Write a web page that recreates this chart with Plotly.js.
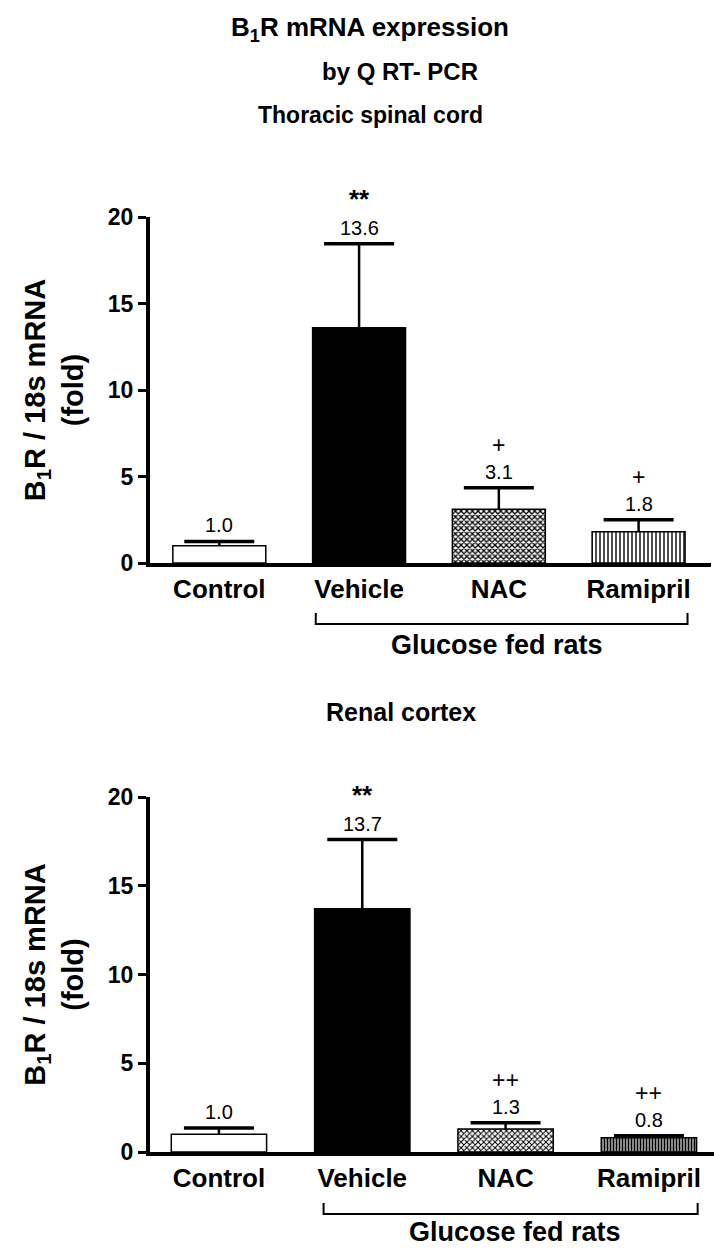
<!DOCTYPE html>
<html>
<head>
<meta charset="utf-8">
<script src="https://cdn.plot.ly/plotly-3.0.1.min.js"></script>
<style>html,body{margin:0;padding:0;background:#fff;}#chart{width:714px;height:1249px;}</style>
</head>
<body>
<div id="chart"></div>
<script>
// ---- data ----
const categories = ['Control', 'Vehicle', 'NAC', 'Ramipril'];
const spinalMean = [1.0, 13.6, 3.1, 1.8];
const spinalSem  = [0.25, 4.85, 1.25, 0.7];
const spinalSig  = ['', '**', '+', '+'];
const renalMean  = [1.0, 13.7, 1.3, 0.8];
const renalSem   = [0.35, 3.9, 0.35, 0.12];
const renalSig   = ['', '**', '++', '++'];
const yTicks     = [0, 5, 10, 15, 20];
const groupLabel = 'Glucose fed rats';

// ---- layout helpers (pixel -> paper) ----
const W = 714, H = 1249;
const px = x => x / W;
const py = y => 1 - y / H;
const FONT = 'Liberation Sans, Arial, Helvetica, sans-serif';

// bar fill styles per category (style only, no data)
const topStyles = [
  {bg: '#ffffff', shape: '', size: 4, sol: 0.3},
  {bg: '#000000', shape: '', size: 4, sol: 0.3},
  {bg: '#ffffff', shape: 'x', size: 4, sol: 0.55},
  {bg: '#ffffff', shape: '|', size: 4, sol: 0.35}
];
const botStyles = [
  {bg: '#ffffff', shape: '', size: 4, sol: 0.3},
  {bg: '#000000', shape: '', size: 4, sol: 0.3},
  {bg: '#ffffff', shape: 'x', size: 4, sol: 0.45},
  {bg: '#ffffff', shape: '|', size: 3, sol: 0.65}
];

function barTraces(mean, xa, ya, styles) {
  return categories.map((c, i) => {
    const s = styles[i];
    const marker = {color: s.bg, line: {color: '#000000', width: 1.5}};
    if (s.shape) marker.pattern = {shape: s.shape, size: s.size, solidity: s.sol,
                                   fgcolor: '#000000', bgcolor: s.bg, fillmode: 'replace'};
    return {type: 'bar', x: [c], y: [mean[i]], xaxis: xa, yaxis: ya, width: 0.665,
            marker: marker, hoverinfo: 'skip', showlegend: false, name: c};
  });
}
function errTrace(mean, sem, xa, ya) {
  return {
    type: 'scatter', mode: 'markers', xaxis: xa, yaxis: ya,
    x: categories, y: mean.map((m, i) => m + sem[i]),
    marker: {symbol: 'line-ew', size: 50, color: '#000', line: {color: '#000', width: 3.5}},
    error_y: {type: 'data', symmetric: false, array: sem.map(() => 0), arrayminus: sem,
              width: 0, thickness: 2.5, color: '#000'},
    hoverinfo: 'skip', showlegend: false, cliponaxis: false
  };
}

const data = []
  .concat(barTraces(spinalMean, 'x', 'y', topStyles))
  .concat([errTrace(spinalMean, spinalSem, 'x', 'y')])
  .concat(barTraces(renalMean, 'x2', 'y2', botStyles))
  .concat([errTrace(renalMean, renalSem, 'x2', 'y2')]);

function valueAnns(mean, sem, sig, xa, ya) {
  const out = [];
  categories.forEach((c, i) => {
    out.push({xref: xa, yref: ya, x: c, y: mean[i] + sem[i], yanchor: 'bottom', yshift: 3,
      text: mean[i].toFixed(1), showarrow: false, font: {family: FONT, size: 20, color: '#000'}});
    if (sig[i]) {
      const star = sig[i].startsWith('*');
      out.push({xref: xa, yref: ya, x: c, y: mean[i] + sem[i], yanchor: 'bottom',
        yshift: 28, text: sig[i], showarrow: false,
        font: {family: FONT, size: star ? 26 : 23, color: '#000', weight: star ? 'bold' : 'normal'}});
    }
  });
  return out;
}

const boldFont = s => ({family: FONT, size: s, color: '#000', weight: 'bold'});
const xAxisBase = {
  type: 'category', showline: true, linewidth: 4, linecolor: '#000', ticks: '',
  showgrid: false, zeroline: false, tickfont: boldFont(26), fixedrange: true
};
const yAxisBase = {
  range: [0, 20], tickvals: yTicks, ticktext: yTicks.map(String),
  showline: true, linewidth: 4, linecolor: '#000', ticks: 'outside', ticklen: 8, tickwidth: 3,
  tickcolor: '#000', showgrid: false, zeroline: false, tickfont: boldFont(23), fixedrange: true,
  title: {text: 'B<sub>1</sub>R / 18s mRNA<br>(fold)', font: boldFont(29), standoff: 17}
};

const layout = {
  width: W, height: H, margin: {l: 0, r: 0, t: 0, b: 0},
  paper_bgcolor: '#fff', plot_bgcolor: 'rgba(0,0,0,0)', showlegend: false,
  barmode: 'overlay',
  title: {text: 'B<sub>1</sub>R mRNA expression', font: boldFont(26), x: px(370), xanchor: 'center',
          y: py(27), yanchor: 'middle', xref: 'paper', yref: 'paper'},
  xaxis:  Object.assign({}, xAxisBase, {domain: [px(150), px(711)], range: [-0.496, 3.518], anchor: 'y'}),
  yaxis:  Object.assign({}, yAxisBase, {domain: [py(563), py(217)], anchor: 'x'}),
  xaxis2: Object.assign({}, xAxisBase, {domain: [px(150), px(714)], range: [-0.481, 3.454], anchor: 'y2'}),
  yaxis2: Object.assign({}, yAxisBase, {domain: [py(1152), py(797)], anchor: 'x2'}),
  shapes: [
    {type: 'path', xref: 'x', yref: 'paper', line: {color: '#000', width: 2},
     path: `M 0.69,${py(613)} L 0.69,${py(624)} L 3.35,${py(624)} L 3.35,${py(613)}`},
    {type: 'path', xref: 'x2', yref: 'paper', line: {color: '#000', width: 2},
     path: `M 0.73,${py(1203)} L 0.73,${py(1214)} L 3.34,${py(1214)} L 3.34,${py(1203)}`}
  ],
  annotations: [
    {xref: 'paper', yref: 'paper', x: px(400), y: py(71), xanchor: 'center', yanchor: 'middle',
     text: 'by Q RT- PCR', showarrow: false, font: boldFont(24)},
    {xref: 'paper', yref: 'paper', x: px(370), y: py(115), xanchor: 'center', yanchor: 'middle',
     text: 'Thoracic spinal cord', showarrow: false, font: boldFont(23)},
    {xref: 'paper', yref: 'paper', x: px(401), y: py(712), xanchor: 'center', yanchor: 'middle',
     text: 'Renal cortex', showarrow: false, font: boldFont(25)},
    {xref: 'paper', yref: 'paper', x: px(497), y: py(645), xanchor: 'center', yanchor: 'middle',
     text: groupLabel, showarrow: false, font: boldFont(27)},
    {xref: 'paper', yref: 'paper', x: px(515), y: 0, xanchor: 'center', yanchor: 'bottom',
     text: groupLabel, showarrow: false, font: boldFont(27)}
  ].concat(valueAnns(spinalMean, spinalSem, spinalSig, 'x', 'y'))
   .concat(valueAnns(renalMean, renalSem, renalSig, 'x2', 'y2'))
};

Plotly.newPlot('chart', data, layout, {displayModeBar: false, staticPlot: true});
</script>
</body>
</html>
